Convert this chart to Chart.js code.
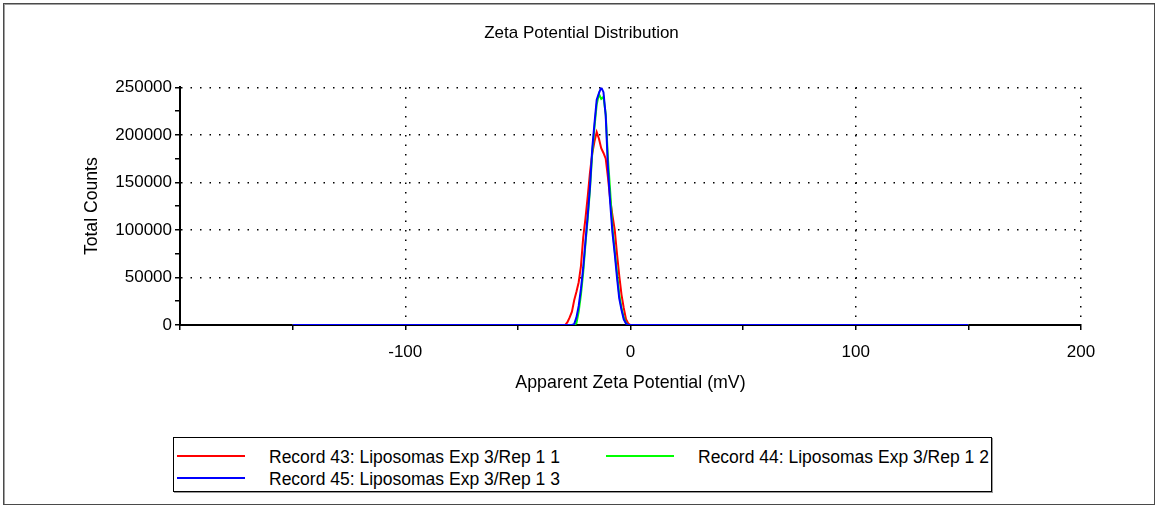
<!DOCTYPE html>
<html>
<head>
<meta charset="utf-8">
<title>Zeta Potential Distribution</title>
<script src="https://cdn.jsdelivr.net/npm/chart.js@4.4.1/dist/chart.umd.min.js"></script>
<style>
    html, body { margin: 0; padding: 0; background: #fff; }
    body {
        width: 1159px; height: 508px; position: relative; overflow: hidden;
        font-family: "Liberation Sans", Arial, sans-serif;
    }
    .frame {
        position: absolute; left: 3px; top: 3px; width: 1150px; height: 500px;
        border: 1px solid #4a4a4a; box-shadow: inset 1px 1px 0 #a0a0a0;
    }
    #zetaChart { position: absolute; left: 0; top: 0; }
    .legend {
        position: absolute; left: 173px; top: 437px; width: 817px; height: 53px;
        border: 1px solid #000; box-shadow: 1px 1px 0 #9a9a9a;
    }
    .legend .swatch { position: absolute; width: 68px; height: 2px; }
    .legend .label {
        position: absolute; font-size: 17.5px; line-height: 18px; color: #000; white-space: nowrap;
    }
</style>
</head>
<body>
<div class="frame"></div>
<canvas id="zetaChart" width="1159" height="394"></canvas>
<div class="legend" id="legend"></div>

<script>
// --- DATA ---
const potentials = [-150, -30, -29, -28, -27, -26, -25, -24, -23, -22, -21, -20, -19, -18, -17, -16,
    -15, -14, -13, -12, -11, -10, -9, -8, -7, -6, -5, -4, -3, -2, -1, 0, 150];

const record43 = [0, 0, 0, 3000, 8000, 14000, 26000, 35000, 45000, 62000, 92000, 112000, 135000, 160000, 180000, 193000,
    203000, 196000, 186000, 181000, 175000, 155000, 132000, 115000, 100000, 75000, 52000, 32000, 18000, 6000, 1500, 0, 0];

const record44 = [0, 0, 0, 0, 0, 0, 0, 2000, 14000, 32000, 55000, 85000, 112000, 142000, 180000, 208000,
    232000, 243000, 238000, 240000, 222000, 175000, 140000, 102000, 78000, 55000, 32000, 18000, 8000, 2000, 0, 0, 0];

const record45 = [0, 0, 0, 0, 0, 0, 1000, 8000, 20000, 38000, 60000, 88000, 115000, 145000, 185000, 212000,
    237000, 244000, 250000, 245000, 220000, 165000, 128000, 97000, 75000, 50000, 28000, 16000, 6000, 1500, 0, 0, 0];

const seriesLabels = [
    'Record 43: Liposomas Exp 3/Rep 1 1',
    'Record 44: Liposomas Exp 3/Rep 1 2',
    'Record 45: Liposomas Exp 3/Rep 1 3'
];
const seriesColors = ['#ff0000', '#00ff00', '#0000ff'];

const xTickLabels = [-100, 0, 100, 200];
const yTickLabels = [0, 50000, 100000, 150000, 200000, 250000];

// --- CHART ---
Chart.defaults.font.family = "'Liberation Sans', Arial, sans-serif";
Chart.defaults.color = '#000';

const toPoints = (ys) => potentials.map((x, i) => ({ x: x, y: ys[i] }));
const seriesValues = [record43, record44, record45];

// later records are painted on top (lowest order = drawn last)
const datasets = seriesValues.map((ys, i) => ({
    label: seriesLabels[i],
    data: toPoints(ys),
    order: seriesValues.length - 1 - i,
    borderColor: seriesColors[i],
    backgroundColor: seriesColors[i],
    borderWidth: 2,
    pointRadius: 0,
    showLine: true,
    tension: 0
}));

const majorX = (ctx) => ctx.tick && xTickLabels.includes(ctx.tick.value);
const majorY = (ctx) => ctx.tick && ctx.tick.value !== 0 && yTickLabels.includes(ctx.tick.value);

new Chart(document.getElementById('zetaChart'), {
    type: 'scatter',
    data: { datasets: datasets },
    options: {
        responsive: false,
        animation: false,
        devicePixelRatio: 1,
        layout: { padding: { left: 82, right: 78, top: 0, bottom: 0 } },
        plugins: {
            legend: { display: false },
            tooltip: { enabled: false },
            title: {
                display: true,
                text: 'Zeta Potential Distribution',
                color: '#000',
                font: { size: 17, weight: 'normal' },
                padding: { top: 23, bottom: 44 }
            }
        },
        scales: {
            x: {
                type: 'linear',
                min: -200,
                max: 200,
                afterFit: (scale) => { scale.height = 69; },
                ticks: {
                    stepSize: 50,
                    autoSkip: false,
                    maxRotation: 0,
                    padding: 12,
                    font: { size: 17 },
                    callback: (v) => xTickLabels.includes(v) ? String(v) : ''
                },
                grid: {
                    color: (ctx) => majorX(ctx) ? '#000' : 'rgba(0,0,0,0)',
                    lineWidth: 1.5,
                    tickColor: '#000',
                    tickLength: 5,
                    tickWidth: 1.5
                },
                border: { display: true, color: '#000', width: 2, dash: [1.5, 8] },
                title: {
                    display: true,
                    text: 'Apparent Zeta Potential (mV)',
                    font: { size: 17.8 },
                    padding: 0
                }
            },
            y: {
                min: 0,
                max: 250000,
                afterFit: (scale) => { scale.width = 98; },
                ticks: {
                    stepSize: 25000,
                    autoSkip: false,
                    padding: 3,
                    font: { size: 17 },
                    callback: (v) => yTickLabels.includes(v) ? String(v) : ''
                },
                grid: {
                    color: (ctx) => majorY(ctx) ? '#000' : 'rgba(0,0,0,0)',
                    lineWidth: 1.5,
                    tickColor: '#000',
                    tickLength: 5,
                    tickWidth: 1.5
                },
                border: { display: true, color: '#000', width: 2, dash: [1.5, 8] },
                title: {
                    display: true,
                    text: 'Total Counts',
                    font: { size: 17.6 },
                    padding: 0
                }
            }
        }
    }
});

// --- LEGEND (boxed, two columns) ---
const legendSlots = [
    { swatchLeft: 3, top: 0 },
    { swatchLeft: 432, top: 0 },
    { swatchLeft: 3, top: 22 }
];
const legendEl = document.getElementById('legend');
seriesLabels.forEach((label, i) => {
    const slot = legendSlots[i];
    const sw = document.createElement('div');
    sw.className = 'swatch';
    sw.style.left = slot.swatchLeft + 'px';
    sw.style.top = (17 + slot.top) + 'px';
    sw.style.background = seriesColors[i];
    legendEl.appendChild(sw);

    const txt = document.createElement('div');
    txt.className = 'label';
    txt.style.left = (slot.swatchLeft + 92) + 'px';
    txt.style.top = (10 + slot.top) + 'px';
    txt.textContent = label;
    legendEl.appendChild(txt);
});
</script>
</body>
</html>
